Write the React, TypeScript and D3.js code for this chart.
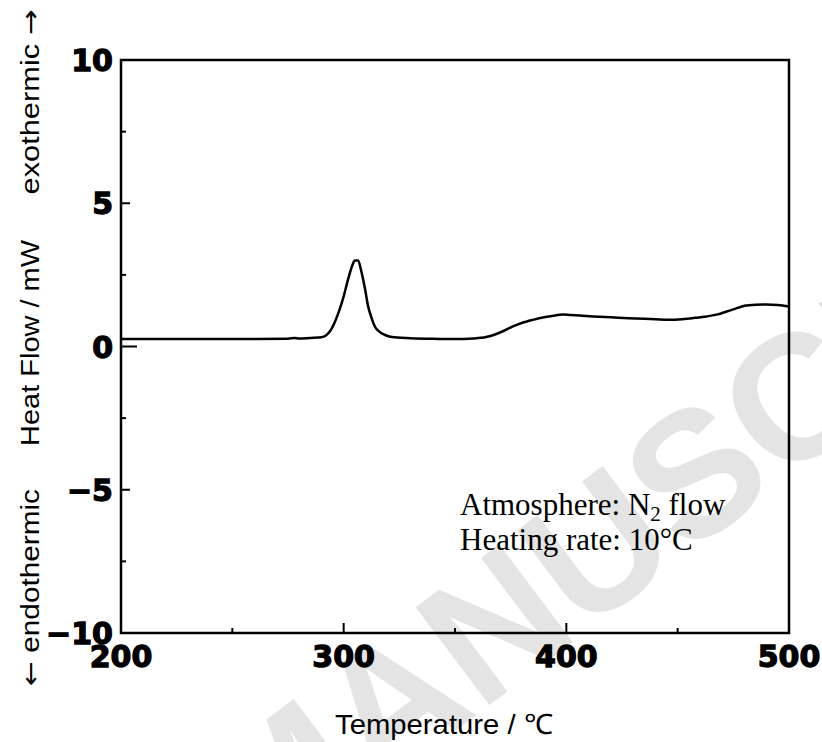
import React from "react";
import * as d3 from "d3";

const temps = [200, 220, 240, 260, 275, 278, 280, 285, 290, 292, 294, 296, 298, 300, 302, 304, 305, 306.5, 308, 309.5, 311, 312.5, 314, 316, 318, 320, 324, 330, 340, 350, 358, 364, 368, 372, 376, 380, 385, 390, 395, 398, 402, 406, 412, 420, 428, 435, 440, 446, 452, 458, 463, 468, 472, 476, 480, 485, 490, 495, 500];
const heatFlow = [0.26, 0.26, 0.26, 0.26, 0.27, 0.3, 0.28, 0.3, 0.32, 0.38, 0.55, 0.85, 1.25, 1.75, 2.35, 2.85, 3.0, 3.0, 2.6, 2.05, 1.4, 1.0, 0.7, 0.52, 0.42, 0.36, 0.31, 0.29, 0.27, 0.26, 0.28, 0.33, 0.42, 0.55, 0.7, 0.82, 0.93, 1.02, 1.08, 1.12, 1.1, 1.08, 1.05, 1.02, 0.99, 0.97, 0.95, 0.93, 0.95, 1.0, 1.05, 1.12, 1.22, 1.32, 1.42, 1.46, 1.47, 1.45, 1.4];

const xMajor = [200, 300, 400, 500];
const xMinor = [250, 350, 450];
const yMajor = [10, 5, 0, -5, -10];
const yMinor = [7.5, 2.5, -2.5, -7.5];
const yLabels = ["10", "5", "0", "\u22125", "\u221210"];

export default function App() {
  const W = 822, H = 742;
  const x = d3.scaleLinear().domain([200, 500]).range([121, 789]);
  const y = d3.scaleLinear().domain([-10, 10]).range([633, 60]);
  const pts = temps.map((t, i) => [t, heatFlow[i]] as [number, number]);
  const line = d3.line<[number, number]>().x(d => x(d[0])).y(d => y(d[1])).curve(d3.curveMonotoneX);
  const sans = "'Liberation Sans', Arial, sans-serif";
  const tickFont = "'DejaVu Sans', sans-serif";
  const arrowFont = "'DejaVu Sans', sans-serif";

  const wmFs = 178;
  return (
    <svg width={W} height={H} style={{ position: "absolute", left: 0, top: 0, background: "#fff" }}>
      <rect x={0} y={0} width={W} height={H} fill="#fff" />
      <g transform={`translate(390,700) rotate(-37)`}>
        <text x={-(0.833 + 0.361) * wmFs} y={0.358 * wmFs} fontFamily={sans} fontWeight="bold" fontSize={wmFs} fill="#e4e4e4">
          MANUSCRIPT
        </text>
      </g>
      <rect x={x(200)} y={y(10)} width={x(500) - x(200)} height={y(-10) - y(10)} fill="none" stroke="#000" strokeWidth={2.5} />
      {xMajor.slice(1, -1).map(v => (
        <line key={"xM" + v} x1={x(v)} x2={x(v)} y1={y(-10)} y2={y(-10) - 10} stroke="#000" strokeWidth={2} />
      ))}
      {xMinor.map(v => (
        <line key={"xm" + v} x1={x(v)} x2={x(v)} y1={y(-10)} y2={y(-10) - 5} stroke="#000" strokeWidth={2} />
      ))}
      {yMajor.slice(1, -1).map(v => (
        <line key={"yM" + v} x1={x(200)} x2={x(200) + (v === 0 ? 16 : 9)} y1={y(v)} y2={y(v)} stroke="#000" strokeWidth={2} />
      ))}
      {yMinor.map(v => (
        <line key={"ym" + v} x1={x(200)} x2={x(200) + 5} y1={y(v)} y2={y(v)} stroke="#000" strokeWidth={2} />
      ))}
      {xMajor.map(v => (
        <text key={"xl" + v} x={x(v)} y={667} textAnchor="middle" fontFamily={tickFont} fontWeight="bold" fontSize={30} fill="#000" stroke="#000" strokeWidth={1.3}>
          {v}
        </text>
      ))}
      {yMajor.map((v, i) => (
        <text key={"yl" + v} x={113} y={y(v) + 11} textAnchor="end" fontFamily={tickFont} fontWeight="bold" fontSize={30} fill="#000" stroke="#000" strokeWidth={1.3}>
          {yLabels[i]}
        </text>
      ))}
      <path d={line(pts) || ""} fill="none" stroke="#000" strokeWidth={2.5} strokeLinejoin="round" />
      <g fontFamily={sans} fontSize={25} fill="#000">
        <text transform={`translate(39,587.5) rotate(-90)`} textAnchor="middle" textLength={197} lengthAdjust="spacingAndGlyphs">
          <tspan fontFamily={arrowFont}>{"\u2190"}</tspan>{" endothermic"}
        </text>
        <text transform={`translate(39,343) rotate(-90)`} textAnchor="middle" textLength={206} lengthAdjust="spacingAndGlyphs">
          Heat Flow / mW
        </text>
        <text transform={`translate(39,102) rotate(-90)`} textAnchor="middle" textLength={185} lengthAdjust="spacingAndGlyphs">
          {"exothermic "}<tspan fontFamily={arrowFont}>{"\u2192"}</tspan>
        </text>
      </g>
      <text x={335} y={734} fontFamily={sans} fontSize={28} fill="#000" textLength={218} lengthAdjust="spacingAndGlyphs">
        {"Temperature / \u2103"}
      </text>
      <g fontFamily="'Liberation Serif', 'Times New Roman', serif" fontSize={31} fill="#000">
        <text x={460} y={515}>
          Atmosphere: N<tspan fontSize={21} dy={6}>2</tspan><tspan dy={-6}> flow</tspan>
        </text>
        <text x={460} y={550}>Heating rate: 10°C</text>
      </g>
    </svg>
  );
}
